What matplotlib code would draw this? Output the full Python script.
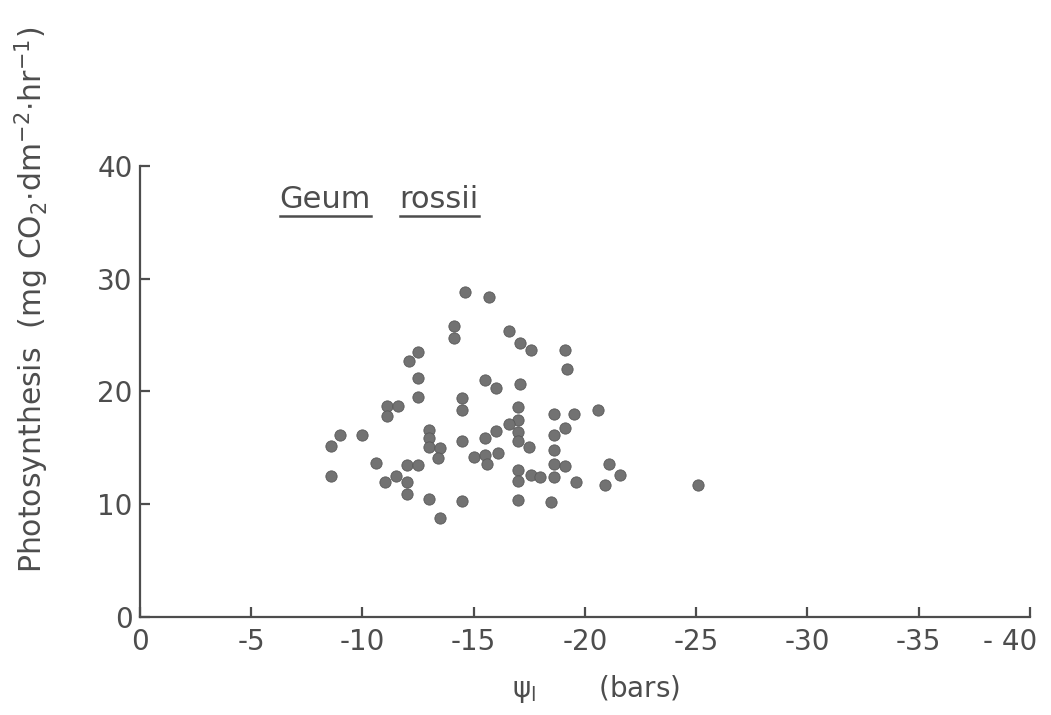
import matplotlib
matplotlib.use("Agg")
import matplotlib.pyplot as plt
from matplotlib.lines import Line2D
from matplotlib.transforms import ScaledTranslation

# Geum rossii: leaf water potential (bars) vs photosynthesis
psi_leaf = [-14.6, -15.7, -14.1, -14.1, -12.5, -12.1, -12.5, -15.5, -16.0, -12.5,
            -14.5, -14.5, -11.1, -11.6, -11.1, -9.0, -10.0, -8.6, -13.0, -13.0,
            -13.0, -13.5, -13.4, -14.5, -16.0, -15.5, -15.0, -15.5, -16.1, -15.6,
            -10.6, -12.0, -12.5, -8.6, -11.5, -11.0, -12.0, -12.0, -13.0, -14.5,
            -13.5, -16.6, -17.1, -17.6, -19.1, -19.2, -17.1, -17.0, -17.0, -16.6,
            -17.0, -17.0, -18.6, -19.5, -20.6, -19.1, -18.6, -17.5, -18.6, -18.6,
            -19.1, -17.0, -17.0, -17.6, -18.0, -18.6, -19.6, -21.1, -21.6, -20.9,
            -25.1, -17.0, -18.5]
photo = [28.8, 28.4, 25.8, 24.7, 23.5, 22.7, 21.2, 21.0, 20.3, 19.5,
         19.4, 18.4, 18.7, 18.7, 17.8, 16.1, 16.1, 15.2, 16.6, 15.9,
         15.1, 15.0, 14.1, 15.6, 16.5, 15.9, 14.2, 14.4, 14.5, 13.6,
         13.7, 13.5, 13.5, 12.5, 12.5, 12.0, 12.0, 10.9, 10.5, 10.3,
         8.8, 25.4, 24.3, 23.7, 23.7, 22.0, 20.7, 18.6, 17.5, 17.1,
         16.4, 15.6, 18.0, 18.0, 18.4, 16.8, 16.1, 15.1, 14.8, 13.6,
         13.4, 13.0, 12.1, 12.6, 12.4, 12.4, 12.0, 13.6, 12.6, 11.7,
         11.7, 10.4, 10.2]

x_ticks = [0, -5, -10, -15, -20, -25, -30, -35, -40]
x_labels = ["0", "-5", "-10", "-15", "-20", "-25", "-30", "-35", "- 40"]
y_ticks = [0, 10, 20, 30, 40]

ink = "#4d4d4d"
plt.rcParams['font.family'] = ['DejaVu Sans']
plt.rcParams['mathtext.fontset'] = 'dejavusans'

fig = plt.figure(figsize=(10.51, 7.15), dpi=100)
ax = fig.add_axes([0.133, 0.137, 0.847, 0.631])

ax.scatter(psi_leaf, photo, s=66, color="#727272", edgecolors="#5a5a5a",
           linewidths=0.6, zorder=3)

ax.set_xlim(0, -40)
ax.set_ylim(0, 40)
ax.set_xticks(x_ticks)
ax.set_xticklabels(x_labels)
ax.set_yticks(y_ticks)
ax.set_yticklabels([str(t) for t in y_ticks])

for side in ["top", "right"]:
    ax.spines[side].set_visible(False)
for side in ["left", "bottom"]:
    ax.spines[side].set_color(ink)
    ax.spines[side].set_linewidth(1.6)

ax.tick_params(direction="in", length=7, width=1.6, color=ink,
               labelsize=20, labelcolor=ink)
ax.tick_params(axis="x", pad=8)
ax.tick_params(axis="y", pad=5)

# last x label sits a bit left of its tick, as in the original
last = ax.get_xticklabels()[-1]
last.set_transform(last.get_transform() +
                   ScaledTranslation(-0.2, 0, fig.dpi_scale_trans))

fig.text(0.030, 0.58,
         r"Photosynthesis  (mg CO$_2$$\cdot$dm$^{-2}$$\cdot$hr$^{-1}$)",
         fontsize=21.5, color=ink, rotation=90, ha="center", va="center")
ax.set_xlabel(r"ψ$_{\mathrm{l}}$       (bars)", fontsize=20, color=ink)
ax.xaxis.set_label_coords(0.513, -0.125)

# species name, each word underlined
words = [("Geum", 0.157), ("rossii", 0.292)]
fig.canvas.draw()
renderer = fig.canvas.get_renderer()
inv = fig.transFigure.inverted()
for word, xpos in words:
    t = ax.text(xpos, 0.925, word, transform=ax.transAxes, fontsize=22,
                color=ink, ha="left", va="center")
    bb = t.get_window_extent(renderer=renderer)
    (x0, y0), (x1, y1) = inv.transform([[bb.x0, bb.y0], [bb.x1, bb.y1]])
    fig.add_artist(Line2D([x0, x1], [y0 - 0.002, y0 - 0.002],
                          transform=fig.transFigure, color=ink, lw=1.8))

fig.savefig("out.png", dpi=100)
